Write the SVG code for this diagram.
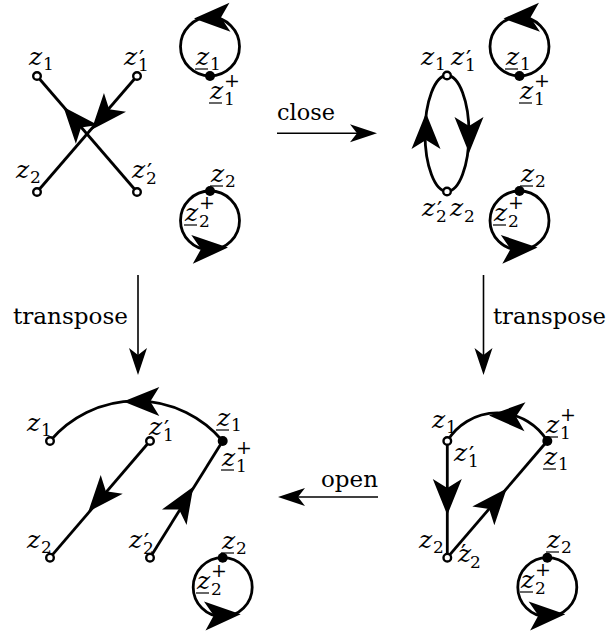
<svg xmlns="http://www.w3.org/2000/svg" width="609" height="635" viewBox="0 0 609 635" font-family="DejaVu Serif, serif">
<defs>
<path id="ah" d="M0,0 L-36,-14.5 L-27,0 L-36,14.5 Z"/>
<path id="sh" d="M0,0 L-27,-9 L-20,0 L-27,9 Z"/>
</defs>
<style>
.ln{fill:none;stroke:#000;stroke-width:2.8}
.nav{fill:none;stroke:#000;stroke-width:1.6}
.on{fill:#fff;stroke:#000;stroke-width:2.4}
.dt{fill:#000}
text{font-family:"DejaVu Serif",serif}
.m{font-style:italic;font-size:25px}
.s{font-size:17px}
.p{font-size:19px}
.pr{font-size:23px}
.r{font-size:23px}
.ul{stroke:#000;stroke-width:1.2}
</style>
<rect width="609" height="635" fill="#fff"/>

<g id="connectors">
<line class="ln" x1="37" y1="76" x2="137" y2="192"/>
<line class="ln" x1="137" y1="76" x2="37" y2="192"/>
<use href="#ah" transform="translate(91.6,129.7) rotate(130.5)"/>
<use href="#ah" transform="translate(63.5,107) rotate(229.5)"/>
<circle class="ln" cx="210" cy="46.5" r="29.5"/>
<use href="#ah" transform="translate(194,18.5) rotate(178)"/>
<circle class="ln" cx="210" cy="220.5" r="29.5"/>
<use href="#ah" transform="translate(228,247.5) rotate(-3)"/>
<ellipse class="ln" cx="447" cy="133.5" rx="22" ry="58"/>
<use href="#ah" transform="translate(426,113) rotate(-90)"/>
<use href="#ah" transform="translate(469,153) rotate(90)"/>
<circle class="ln" cx="519.5" cy="46.5" r="29.5"/>
<use href="#ah" transform="translate(503.5,18.5) rotate(178)"/>
<circle class="ln" cx="519.5" cy="220.5" r="29.5"/>
<use href="#ah" transform="translate(537.5,247.5) rotate(-3)"/>
<path class="ln" d="M50,441 A113,113 0 0 1 222.7,441"/>
<use href="#ah" transform="translate(123.3,401.5) rotate(180)"/>
<line class="ln" x1="150" y1="441" x2="50" y2="557.7"/>
<use href="#ah" transform="translate(88.3,511.7) rotate(130.6)"/>
<line class="ln" x1="150" y1="557.7" x2="222.7" y2="441"/>
<use href="#ah" transform="translate(193.3,486.7) rotate(-58.1)"/>
<circle class="ln" cx="222.7" cy="587.2" r="29.5"/>
<use href="#ah" transform="translate(240.7,614.2) rotate(-3)"/>
<path class="ln" d="M447.3,441 A58.6,58.6 0 0 1 547.3,441"/>
<use href="#ah" transform="translate(489,415.5) rotate(182)"/>
<line class="ln" x1="447.3" y1="441" x2="447.3" y2="557.7"/>
<use href="#ah" transform="translate(447.3,515) rotate(90)"/>
<line class="ln" x1="447.3" y1="557.7" x2="547.3" y2="441"/>
<use href="#ah" transform="translate(506.7,488.5) rotate(-49.5)"/>
<circle class="ln" cx="547.3" cy="587.2" r="29.5"/>
<use href="#ah" transform="translate(565.3,614.2) rotate(-3)"/>
<line class="nav" x1="277" y1="133.3" x2="370" y2="133.3"/>
<use href="#sh" transform="translate(377,133.3)"/>
<line class="nav" x1="138" y1="275" x2="138" y2="368"/>
<use href="#sh" transform="translate(138,375) rotate(90)"/>
<line class="nav" x1="483.5" y1="275" x2="483.5" y2="368"/>
<use href="#sh" transform="translate(483.5,375) rotate(90)"/>
<line class="nav" x1="378" y1="497" x2="285" y2="497"/>
<use href="#sh" transform="translate(278,497) rotate(180)"/>
</g>

<g id="arrow-labels">
<text class="r" x="277" y="120" textLength="58" lengthAdjust="spacingAndGlyphs">close</text>
<text class="r" x="13" y="324" textLength="115" lengthAdjust="spacingAndGlyphs">transpose</text>
<text class="r" x="493" y="324" textLength="113" lengthAdjust="spacingAndGlyphs">transpose</text>
<text class="r" x="321" y="487" textLength="57" lengthAdjust="spacingAndGlyphs">open</text>
</g>

<g id="p1-z1"><circle class="on" cx="37" cy="76" r="3.8"/><text class="m" x="29" y="65">z</text><text class="s" x="43" y="70">1</text></g>
<g id="p1-z1p"><circle class="on" cx="137" cy="76" r="3.8"/><text class="m" x="124" y="65">z</text><text class="s" x="138" y="71">1</text><text class="pr" x="139" y="66">′</text></g>
<g id="p1-z2"><circle class="on" cx="37" cy="192" r="3.8"/><text class="m" x="16" y="178">z</text><text class="s" x="30" y="183">2</text></g>
<g id="p1-z2p"><circle class="on" cx="137" cy="192" r="3.8"/><text class="m" x="132" y="178">z</text><text class="s" x="146" y="184">2</text><text class="pr" x="147" y="179">′</text></g>
<g id="p1-loop1"><circle class="dt" cx="210" cy="76" r="5"/>
<text class="m" x="196" y="65">z</text><line class="ul" x1="195" y1="69" x2="208" y2="69"/><text class="s" x="210" y="70">1</text>
<text class="m" x="210" y="99">z</text><line class="ul" x1="209" y1="103" x2="222" y2="103"/><text class="s" x="224" y="105">1</text><text class="p" x="224" y="87">+</text></g>
<g id="p1-loop2"><circle class="dt" cx="210" cy="191" r="5"/>
<text class="m" x="211" y="182">z</text><line class="ul" x1="210" y1="186" x2="223" y2="186"/><text class="s" x="225" y="187">2</text>
<text class="m" x="185" y="221">z</text><line class="ul" x1="184" y1="225" x2="197" y2="225"/><text class="s" x="199" y="227">2</text><text class="p" x="199" y="209">+</text></g>

<g id="p2-top"><circle class="on" cx="447" cy="75.5" r="3.8"/><text class="m" x="421" y="65">z</text><text class="s" x="435" y="70">1</text><text class="m" x="451" y="65">z</text><text class="s" x="465" y="71">1</text><text class="pr" x="466" y="66">′</text></g>
<g id="p2-bottom"><circle class="on" cx="447" cy="191.5" r="3.8"/><text class="m" x="422" y="216">z</text><text class="s" x="436" y="222">2</text><text class="pr" x="437" y="217">′</text><text class="m" x="450" y="216">z</text><text class="s" x="464" y="222">2</text></g>
<g id="p2-loop1"><circle class="dt" cx="519.5" cy="76" r="5"/>
<text class="m" x="506" y="65">z</text><line class="ul" x1="505" y1="69" x2="518" y2="69"/><text class="s" x="520" y="70">1</text>
<text class="m" x="520" y="99">z</text><line class="ul" x1="519" y1="103" x2="532" y2="103"/><text class="s" x="534" y="105">1</text><text class="p" x="534" y="87">+</text></g>
<g id="p2-loop2"><circle class="dt" cx="519.5" cy="191" r="5"/>
<text class="m" x="521" y="182">z</text><line class="ul" x1="520" y1="186" x2="533" y2="186"/><text class="s" x="535" y="187">2</text>
<text class="m" x="494" y="221">z</text><line class="ul" x1="493" y1="225" x2="506" y2="225"/><text class="s" x="508" y="227">2</text><text class="p" x="508" y="209">+</text></g>

<g id="p3-z1"><circle class="on" cx="50" cy="441" r="3.8"/><text class="m" x="27" y="431">z</text><text class="s" x="41" y="436">1</text></g>
<g id="p3-z1p"><circle class="on" cx="150" cy="441" r="3.8"/><text class="m" x="149" y="435">z</text><text class="s" x="163" y="441">1</text><text class="pr" x="164" y="436">′</text></g>
<g id="p3-dot"><circle class="dt" cx="222.7" cy="441" r="5"/>
<text class="m" x="217" y="426">z</text><line class="ul" x1="216" y1="430" x2="229" y2="430"/><text class="s" x="231" y="431">1</text>
<text class="m" x="222" y="466">z</text><line class="ul" x1="221" y1="470" x2="234" y2="470"/><text class="s" x="236" y="472">1</text><text class="p" x="236" y="454">+</text></g>
<g id="p3-z2"><circle class="on" cx="50" cy="557.7" r="3.8"/><text class="m" x="27" y="548">z</text><text class="s" x="41" y="553">2</text></g>
<g id="p3-z2p"><circle class="on" cx="150" cy="557.7" r="3.8"/><text class="m" x="129" y="548">z</text><text class="s" x="143" y="554">2</text><text class="pr" x="144" y="549">′</text></g>
<g id="p3-loop"><circle class="dt" cx="222.7" cy="557.7" r="5"/>
<text class="m" x="222" y="549">z</text><line class="ul" x1="221" y1="553" x2="234" y2="553"/><text class="s" x="236" y="554">2</text>
<text class="m" x="197" y="589">z</text><line class="ul" x1="196" y1="593" x2="209" y2="593"/><text class="s" x="211" y="595">2</text><text class="p" x="211" y="577">+</text></g>

<g id="p4-z1"><circle class="on" cx="447.3" cy="441" r="3.8"/><text class="m" x="432" y="428">z</text><text class="s" x="446" y="433">1</text>
<text class="m" x="454" y="461">z</text><text class="s" x="468" y="467">1</text><text class="pr" x="469" y="462">′</text></g>
<g id="p4-dot"><circle class="dt" cx="547.3" cy="441" r="5"/>
<text class="m" x="546" y="433">z</text><line class="ul" x1="545" y1="437" x2="558" y2="437"/><text class="s" x="560" y="439">1</text><text class="p" x="560" y="421">+</text>
<text class="m" x="544" y="465">z</text><line class="ul" x1="543" y1="469" x2="556" y2="469"/><text class="s" x="558" y="470">1</text></g>
<g id="p4-z2"><circle class="on" cx="447.3" cy="557.7" r="3.8"/><text class="m" x="419" y="548">z</text><text class="s" x="433" y="553">2</text>
<text class="m" x="458" y="562">z</text><text class="s" x="470" y="568">2</text><text class="pr" x="461" y="560">′</text></g>
<g id="p4-loop"><circle class="dt" cx="547.3" cy="557.7" r="5"/>
<text class="m" x="547" y="548">z</text><line class="ul" x1="546" y1="552" x2="559" y2="552"/><text class="s" x="561" y="553">2</text>
<text class="m" x="521" y="588">z</text><line class="ul" x1="520" y1="592" x2="533" y2="592"/><text class="s" x="535" y="594">2</text><text class="p" x="535" y="576">+</text></g>
</svg>
